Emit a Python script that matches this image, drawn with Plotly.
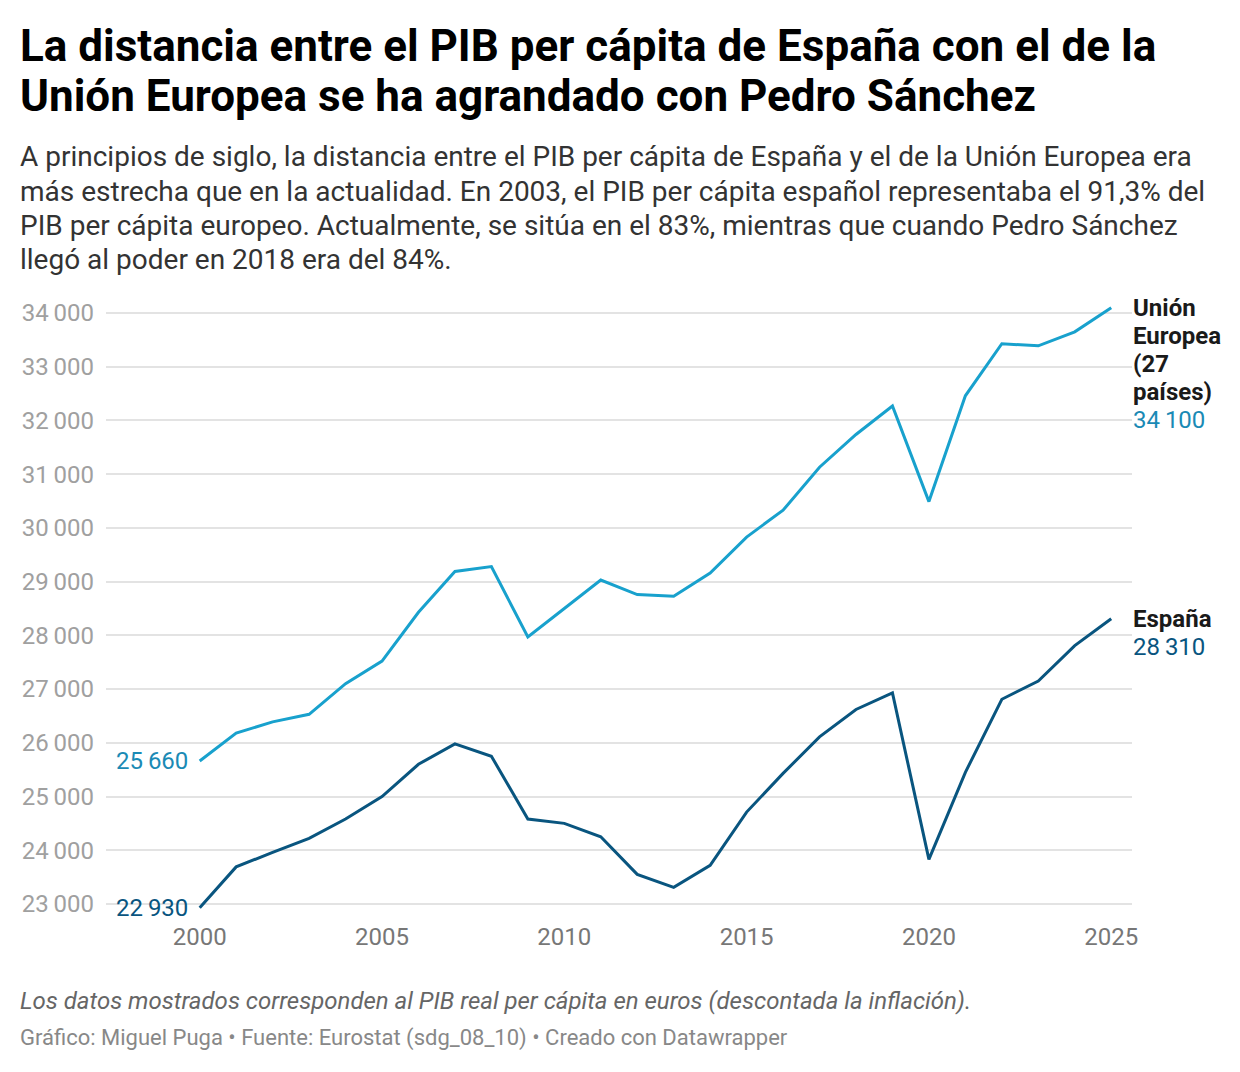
import plotly.graph_objects as go

years = list(range(2000, 2026))

ue = [25660, 26180, 26390, 26530, 27100, 27520, 28430, 29190, 29280, 27970,
      28500, 29030, 28760, 28730, 29160, 29830, 30330, 31130, 31740, 32270,
      30490, 32460, 33430, 33390, 33650, 34100]

espana = [22930, 23690, 23960, 24220, 24580, 25000, 25600, 25980, 25750, 24580,
          24500, 24250, 23550, 23310, 23720, 24710, 25430, 26110, 26620, 26930,
          23830, 25450, 26810, 27150, 27810, 28310]

y_ticks = list(range(23000, 35000, 1000))
x_ticks = [2000, 2005, 2010, 2015, 2020, 2025]

titulo = ["La distancia entre el PIB per cápita de España con el de la",
          "Unión Europea se ha agrandado con Pedro Sánchez"]
subtitulo = ["A principios de siglo, la distancia entre el PIB per cápita de España y el de la Unión Europea era",
             "más estrecha que en la actualidad. En 2003, el PIB per cápita español representaba el 91,3% del",
             "PIB per cápita europeo. Actualmente, se sitúa en el 83%, mientras que cuando Pedro Sánchez",
             "llegó al poder en 2018 era del 84%."]
nota = "Los datos mostrados corresponden al PIB real per cápita en euros (descontada la inflación)."
fuente = "Gráfico: Miguel Puga • Fuente: Eurostat (sdg_08_10) • Creado con Datawrapper"
etiqueta_ue = ["Unión", "Europea", "(27", "países)"]
etiqueta_es = ["España"]

AZUL_UE = "#18a1cd"
AZUL_UE_TXT = "#1a8ab5"
AZUL_ES = "#09557f"
FONT = "Roboto"
ESP = "\u2009"  # separador de miles

W, H = 1240, 1072
M_L, M_R, M_T, M_B = 106, 108, 305, 160


def py(pix):
    # pixel y desde arriba -> coordenada paper
    return (H - M_B - pix) / (H - M_T - M_B)


def px(pix):
    return (pix - M_L) / (W - M_L - M_R)


def miles(v):
    return f"{v:,}".replace(",", ESP)


fig = go.Figure()
fig.add_trace(go.Scatter(x=years, y=ue, mode="lines", name="Unión Europea (27 países)",
                         line=dict(color=AZUL_UE, width=3)))
fig.add_trace(go.Scatter(x=years, y=espana, mode="lines", name="España",
                         line=dict(color=AZUL_ES, width=3)))

ann = []


def texto(t, x, y, size, color, **kw):
    ann.append(dict(text=t, x=x, y=y, xref="paper", yref="paper", xanchor="left",
                    yanchor="middle", showarrow=False,
                    font=dict(family=FONT, size=size, color=color), **kw))


for i, t in enumerate(titulo):
    texto(f"<b>{t}</b>", px(18), py(46 + 50 * i), 44, "#000000")
for i, t in enumerate(subtitulo):
    texto(t, px(18), py(157 + 34 * i), 28, "#333333")
texto(f"<i>{nota}</i>", px(18), py(1001), 24, "#666666")
texto(fuente, px(18), py(1038), 22, "#888888")

# etiquetas al inicio de las líneas
ann.append(dict(text=miles(ue[0]), x=years[0], y=ue[0], xanchor="right",
                yanchor="middle", xshift=-10, showarrow=False,
                font=dict(family=FONT, size=24, color=AZUL_UE_TXT)))
ann.append(dict(text=miles(espana[0]), x=years[0], y=espana[0], xanchor="right",
                yanchor="middle", xshift=-10, showarrow=False,
                font=dict(family=FONT, size=24, color=AZUL_ES)))

# etiquetas al final de las líneas
for serie, nombre, color in [(ue, etiqueta_ue, AZUL_UE_TXT), (espana, etiqueta_es, AZUL_ES)]:
    lineas = [(f"<b>{n}</b>", "#1a1a1a") for n in nombre] + [(miles(serie[-1]), color)]
    for i, (t, c) in enumerate(lineas):
        ann.append(dict(text=t, x=years[-1], y=serie[-1], xanchor="left", yanchor="middle",
                        xshift=20, yshift=-28 * i, showarrow=False,
                        font=dict(family=FONT, size=24, color=c)))

fig.update_layout(
    width=W, height=H,
    margin=dict(l=M_L, r=M_R, t=M_T, b=M_B),
    paper_bgcolor="white", plot_bgcolor="white",
    showlegend=False,
    separators="," + ESP,
    annotations=ann,
    font=dict(family=FONT),
)
fig.update_xaxes(range=[1997.43, 2025.57], tickvals=x_ticks, showgrid=False, zeroline=False,
                 showline=False, ticks="", ticklabelstandoff=8,
                 tickfont=dict(family=FONT, size=24, color="#777777"))
fig.update_yaxes(range=[22850, 34150], tickvals=y_ticks, tickformat=",d", showgrid=True,
                 gridcolor="#e3e3e3", gridwidth=1.5, zeroline=False, showline=False, ticks="",
                 ticklabelstandoff=11,
                 tickfont=dict(family=FONT, size=24, color="#a0a0a0"))

fig.write_html("out.html", config={"displayModeBar": False},
               post_script="document.body.style.margin='0px';")
